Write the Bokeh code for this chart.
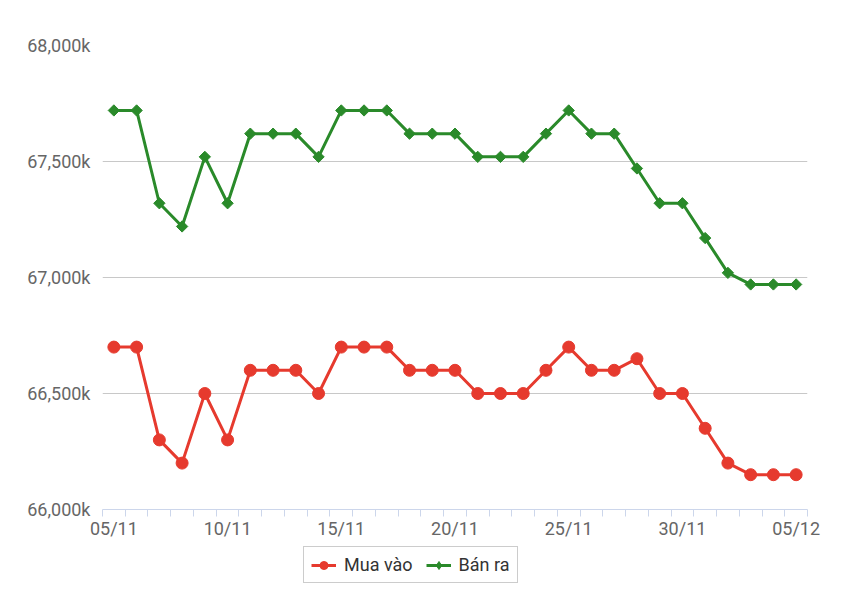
import numpy as np
from bokeh.plotting import figure
from bokeh.layouts import column
from bokeh.models import FixedTicker, Legend, LegendItem, ColumnDataSource
from bokeh.embed import file_html
from bokeh.resources import INLINE

dates = ["05/11", "06/11", "07/11", "08/11", "09/11", "10/11", "11/11", "12/11",
         "13/11", "14/11", "15/11", "16/11", "17/11", "18/11", "19/11", "20/11",
         "21/11", "22/11", "23/11", "24/11", "25/11", "26/11", "27/11", "28/11",
         "29/11", "30/11", "01/12", "02/12", "03/12", "04/12", "05/12"]

mua_vao = [66700, 66700, 66300, 66200, 66500, 66300, 66600, 66600, 66600, 66500,
           66700, 66700, 66700, 66600, 66600, 66600, 66500, 66500, 66500, 66600,
           66700, 66600, 66600, 66650, 66500, 66500, 66350, 66200, 66150, 66150, 66150]

ban_ra = [67720, 67720, 67320, 67220, 67520, 67320, 67620, 67620, 67620, 67520,
          67720, 67720, 67720, 67620, 67620, 67620, 67520, 67520, 67520, 67620,
          67720, 67620, 67620, 67470, 67320, 67320, 67170, 67020, 66970, 66970, 66970]

y_ticks = [66000, 66500, 67000, 67500, 68000]
y_tick_labels = ["66,000k", "66,500k", "67,000k", "67,500k", "68,000k"]
x_label_every = 5

FONT = "Roboto"
RED = "#e63a2e"
GREEN = "#2a8a2a"

n = len(dates)
x = list(range(n))
src = ColumnDataSource(dict(x=x, mua=mua_vao, ban=ban_ra))

p = figure(width=852, height=542, output_backend="svg", toolbar_location=None,
           x_range=(-0.5, n - 0.5), y_range=(y_ticks[0], y_ticks[-1]),
           min_border_left=102, min_border_right=45, min_border_top=45,
           min_border_bottom=33)
p.outline_line_color = None
p.background_fill_color = "white"
p.border_fill_color = "white"

# x axis
major = list(range(0, n, x_label_every))
p.xaxis.ticker = FixedTicker(ticks=major, minor_ticks=[i - 0.5 for i in range(n + 1)])
p.xaxis.major_label_overrides = {i: dates[i] for i in major}
p.xaxis.axis_line_color = "#ccd6eb"
p.xaxis.axis_line_width = 1
p.xaxis.major_tick_line_color = None
p.xaxis.major_tick_out = 7
p.xaxis.major_tick_in = 0
p.xaxis.minor_tick_line_color = "#ccd6eb"
p.xaxis.minor_tick_out = 7
p.xaxis.minor_tick_in = 0
p.xaxis.major_label_standoff = 1
p.xaxis.major_label_text_font = FONT
p.xaxis.major_label_text_font_size = "18px"
p.xaxis.major_label_text_color = "#666666"
p.xgrid.grid_line_color = None

# y axis
p.yaxis.ticker = FixedTicker(ticks=y_ticks, minor_ticks=[])
p.yaxis.major_label_overrides = {v: l for v, l in zip(y_ticks, y_tick_labels)}
p.yaxis.axis_line_color = None
p.yaxis.major_tick_line_color = None
p.yaxis.minor_tick_line_color = None
p.yaxis.major_tick_out = 0
p.yaxis.major_label_standoff = 12
p.yaxis.major_label_text_font = FONT
p.yaxis.major_label_text_font_size = "18px"
p.yaxis.major_label_text_color = "#666666"
p.ygrid.ticker = FixedTicker(ticks=y_ticks)
p.ygrid.grid_line_color = "#c8c8c8"
p.ygrid.grid_line_width = 1

p.line("x", "mua", source=src, line_color=RED, line_width=3)
p.scatter("x", "mua", source=src, marker="circle", size=12,
          fill_color=RED, line_color=RED)
p.line("x", "ban", source=src, line_color=GREEN, line_width=3)
p.scatter("x", "ban", source=src, marker="square", angle=np.pi / 4, size=8,
          fill_color=GREEN, line_color=GREEN)

# legend strip below the chart (its series sit outside its visible range)
q = figure(width=852, height=66, output_backend="svg", toolbar_location=None,
           x_range=(1000, 1001), y_range=(0, 1),
           x_axis_location=None, y_axis_location=None,
           min_border_left=0, min_border_right=0, min_border_top=0,
           min_border_bottom=0)
q.grid.visible = False
q.outline_line_color = None
q.border_fill_color = "white"
ql1 = q.line("x", "mua", source=src, line_color=RED, line_width=3)
qm1 = q.scatter("x", "mua", source=src, marker="circle", size=11,
                fill_color=RED, line_color=RED)
ql2 = q.line("x", "ban", source=src, line_color=GREEN, line_width=3)
qm2 = q.scatter("x", "ban", source=src, marker="diamond", size=14,
                fill_color=GREEN, line_color=GREEN)

legend = Legend(items=[LegendItem(label="Mua vào", renderers=[ql1, qm1]),
                       LegendItem(label="Bán ra", renderers=[ql2, qm2])],
                orientation="horizontal", location=(201, 25))
legend.border_line_color = "#999999"
legend.border_line_width = 1
legend.background_fill_color = "white"
legend.background_fill_alpha = 1
legend.label_text_font = FONT
legend.label_text_font_size = "18px"
legend.label_text_color = "#333333"
legend.glyph_width = 25
legend.glyph_height = 20
legend.label_height = 20
legend.label_standoff = 8
legend.spacing = 13
legend.padding = 7
legend.margin = 0
q.add_layout(legend, "center")

layout = column(p, q, spacing=0)
open("out.html", "w").write(file_html(layout, INLINE))
